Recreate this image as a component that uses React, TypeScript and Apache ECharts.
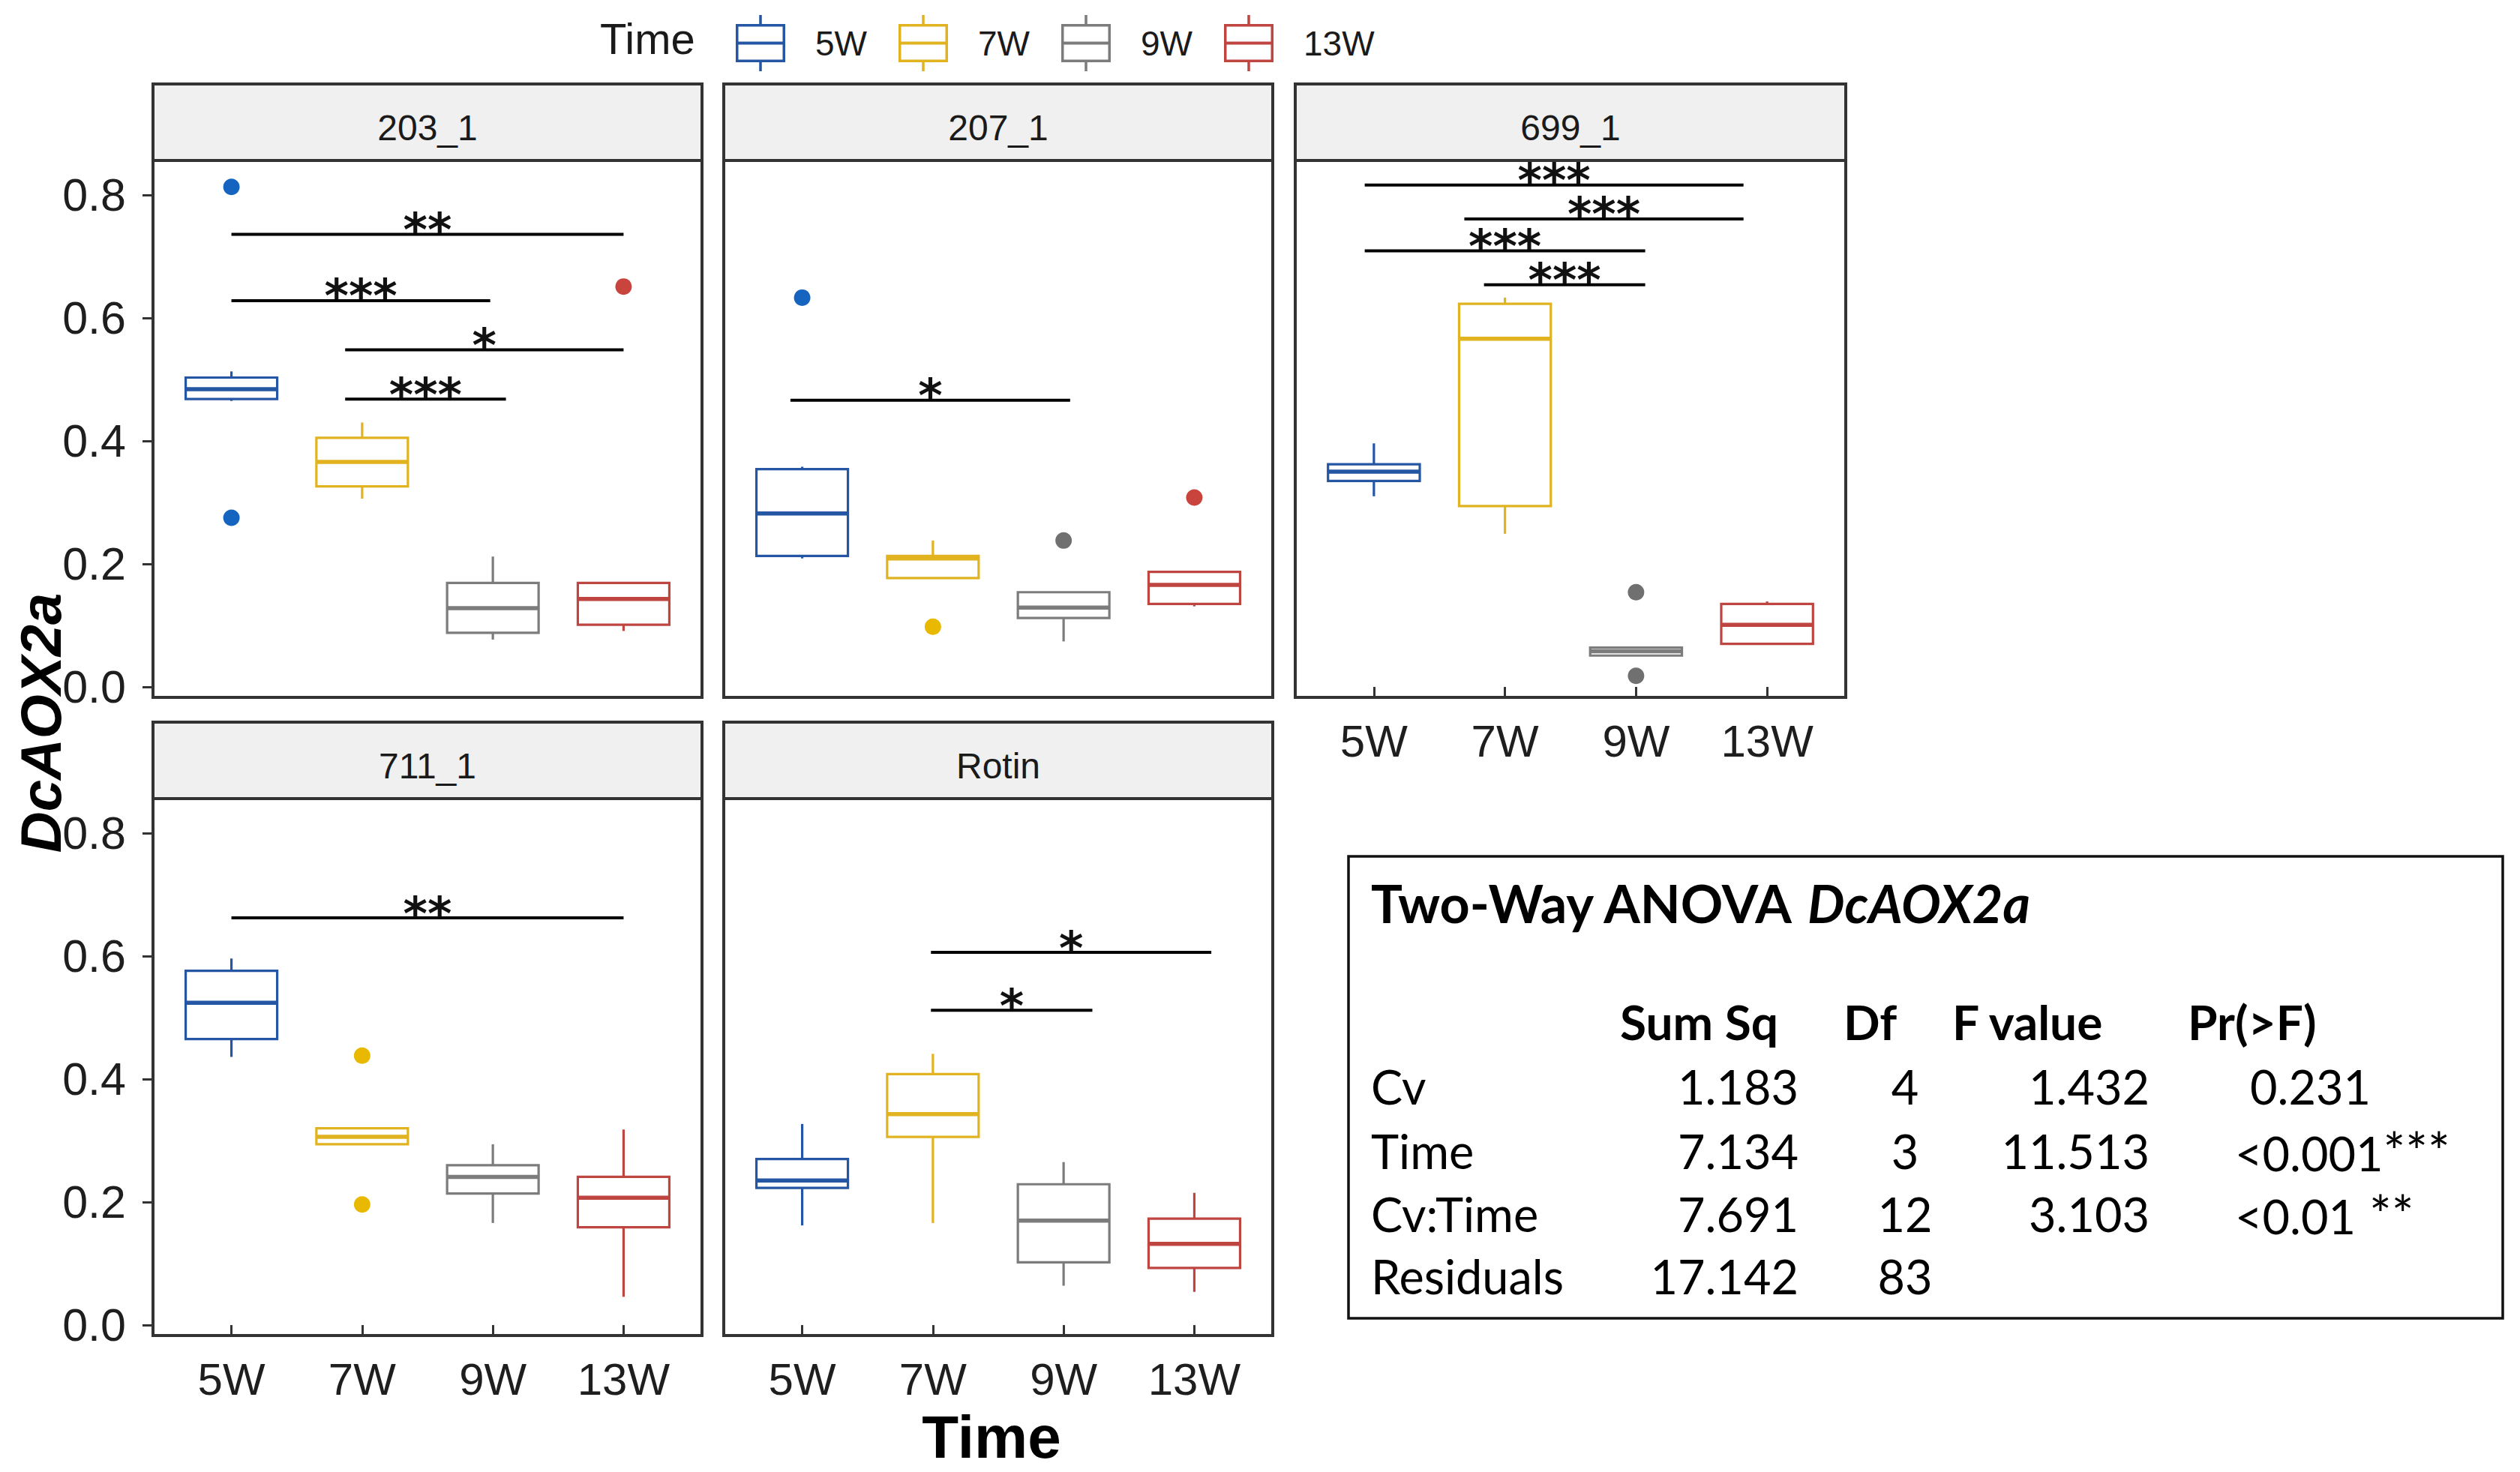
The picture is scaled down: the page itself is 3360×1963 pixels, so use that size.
import React, { useEffect, useRef } from 'react';
import * as echarts from 'echarts';

// ---------------- data ----------------
const panels = ['203_1', '207_1', '699_1', '711_1', 'Rotin'];
const times = ['5W', '7W', '9W', '13W'];
const yTicks = [0, 0.2, 0.4, 0.6, 0.8];
const xTicks = [1, 2, 3, 4];

// [min, Q1, median, Q3, max] for 5W, 7W, 9W, 13W
const box_203_1 = [
  [0.465, 0.468, 0.484, 0.503, 0.513],
  [0.306, 0.326, 0.366, 0.405, 0.43],
  [0.077, 0.088, 0.128, 0.169, 0.212],
  [0.091, 0.101, 0.143, 0.169, 0.169],
];
const box_207_1 = [
  [0.209, 0.213, 0.282, 0.354, 0.358],
  [0.177, 0.177, 0.209, 0.213, 0.238],
  [0.074, 0.112, 0.129, 0.154, 0.154],
  [0.131, 0.135, 0.166, 0.187, 0.187],
];
const box_699_1 = [
  [0.31, 0.335, 0.35, 0.362, 0.396],
  [0.249, 0.294, 0.566, 0.623, 0.633],
  [0.051, 0.051, 0.058, 0.064, 0.064],
  [0.07, 0.07, 0.101, 0.135, 0.139],
];
const box_711_1 = [
  [0.436, 0.465, 0.524, 0.576, 0.596],
  [0.294, 0.294, 0.306, 0.32, 0.32],
  [0.166, 0.214, 0.241, 0.26, 0.294],
  [0.046, 0.159, 0.207, 0.241, 0.318],
];
const box_Rotin = [
  [0.162, 0.223, 0.235, 0.27, 0.327],
  [0.166, 0.306, 0.343, 0.408, 0.441],
  [0.064, 0.102, 0.17, 0.229, 0.265],
  [0.054, 0.093, 0.132, 0.173, 0.215],
];

// outliers: [time position (1..4), value]
const out_203_1 = [[1, 0.813], [1, 0.275], [4, 0.651]];
const out_207_1 = [[1, 0.633], [2, 0.098], [3, 0.238], [4, 0.308]];
const out_699_1 = [[3, 0.154], [3, 0.018]];
const out_711_1 = [[2, 0.438], [2, 0.196]];
const out_Rotin: number[][] = [];

// significance bars: [from, to, height]
const sig_203_1 = [[1, 4, 0.736], [1, 2.98, 0.628], [1.87, 4, 0.548], [1.87, 3.1, 0.468]];
const sigLab_203_1 = ['**', '***', '*', '***'];
const sig_207_1 = [[0.91, 3.05, 0.466]];
const sigLab_207_1 = ['*'];
const sig_699_1 = [[0.93, 3.82, 0.816], [1.69, 3.82, 0.761], [0.93, 3.07, 0.709], [1.84, 3.07, 0.654]];
const sigLab_699_1 = ['***', '***', '***', '***'];
const sig_711_1 = [[1, 4, 0.662]];
const sigLab_711_1 = ['**'];
const sig_Rotin = [[1.985, 4.13, 0.606], [1.985, 3.22, 0.512]];
const sigLab_Rotin = ['*', '*'];

// ANOVA table
const anovaTitle = 'Two-Way ANOVA ';
const anovaGene = 'DcAOX2a';
const anovaHeader = ['Sum Sq', 'Df', 'F value', 'Pr(>F)'];
const anovaTerms = ['Cv', 'Time', 'Cv:Time', 'Residuals'];
const anovaSumSq = ['1.183', '7.134', '7.691', '17.142'];
const anovaDf = ['4', '3', '12', '83'];
const anovaF = ['1.432', '11.513', '3.103', ''];
const anovaP = ['0.231', '<0.001***', '<0.01 **', ''];

const boxes = [box_203_1, box_207_1, box_699_1, box_711_1, box_Rotin];
const outs = [out_203_1, out_207_1, out_699_1, out_711_1, out_Rotin];
const sigs = [sig_203_1, sig_207_1, sig_699_1, sig_711_1, sig_Rotin];
const sigLabs = [sigLab_203_1, sigLab_207_1, sigLab_699_1, sigLab_711_1, sigLab_Rotin];

// ---------------- styles / layout ----------------
const BOX_COLORS = ['#2456A3', '#E2B320', '#7C7C7C', '#BF4540'];
const OUT_COLORS = ['#1565C0', '#E9B800', '#707070', '#C9443C'];
const FONT = "'Liberation Sans', Arial, sans-serif";
const TFONT = "Lato, 'Noto Sans', sans-serif";
const COL_X = [204, 965, 1727];
const COL_W = [732, 732, 734];
const ROW_Y = [214, 1065];
const PANEL_H = 716;
const STRIP_H = 102;
const PANEL_POS = [[0, 0], [1, 0], [2, 0], [0, 1], [1, 1]];
const Y_MIN = -0.017;
const Y_MAX = 0.856;
const BOX_W = 0.7;

const LEGEND_ICON =
  'path://M0 12L66 12L66 63L0 63Z M3.5 15.5L3.5 59.5L62.5 59.5L62.5 15.5Z M3.5 35.5L62.5 35.5L62.5 39.5L3.5 39.5Z M31.25 0L34.75 0L34.75 12L31.25 12Z M31.25 63L34.75 63L34.75 75L31.25 75Z';

function buildOption() {
  const grid: any[] = [];
  const xAxis: any[] = [];
  const yAxis: any[] = [];
  const series: any[] = [];
  const graphic: any[] = [];

  panels.forEach((name, p) => {
    const [c, r] = PANEL_POS[p];
    const left = COL_X[c];
    const top = ROW_Y[r];
    const w = COL_W[c];
    grid.push({
      left, top, width: w, height: PANEL_H,
      show: true, borderColor: '#333', borderWidth: 4, backgroundColor: 'transparent',
      containLabel: false,
    });
    const showX = p >= 2;
    const showY = c === 0;
    xAxis.push({
      type: 'value', gridIndex: p, min: 0.4, max: 4.6,
      show: showX,
      splitLine: { show: false },
      axisLine: { show: false },
      axisTick: { show: true, length: 14, lineStyle: { color: '#333', width: 3 }, customValues: xTicks },
      axisLabel: {
        show: true, customValues: xTicks, margin: 28,
        fontSize: 60, fontFamily: FONT, color: '#1E1E1E',
        formatter: (v: number) => times[Math.round(v) - 1] ?? '',
      },
    });
    yAxis.push({
      type: 'value', gridIndex: p, min: Y_MIN, max: Y_MAX,
      show: showY,
      splitLine: { show: false },
      axisLine: { show: false },
      axisTick: { show: true, length: 14, lineStyle: { color: '#333', width: 3 }, customValues: yTicks },
      axisLabel: {
        show: true, customValues: yTicks, margin: 36,
        fontSize: 61, fontFamily: FONT, color: '#1E1E1E',
        formatter: (v: number) => v.toFixed(1),
      },
    });

    // strip
    graphic.push({
      type: 'rect', z: 10,
      shape: { x: left, y: top - STRIP_H, width: w, height: STRIP_H },
      style: { fill: '#F0F0F0', stroke: '#333', lineWidth: 4 },
    });
    graphic.push({
      type: 'text', z: 11, x: left + w / 2, y: top - STRIP_H + 58,
      style: {
        text: name, x: 0, y: 0, align: 'center', verticalAlign: 'middle',
        textAlign: 'center', textVerticalAlign: 'middle',
        fontSize: 48, fontFamily: FONT, fill: '#1A1A1A',
      },
    });

    // boxes
    boxes[p].forEach((b, t) => {
      const col = BOX_COLORS[t];
      series.push({
        type: 'custom', name: times[t], xAxisIndex: p, yAxisIndex: p,
        itemStyle: { color: col },
        encode: { x: 0, y: [1, 2, 3, 4, 5] },
        data: [[t + 1, ...b]],
        renderItem: (params: any, api: any) => {
          const x = api.value(0);
          const pMin = api.coord([x, api.value(1)]);
          const pQ1 = api.coord([x, api.value(2)]);
          const pMed = api.coord([x, api.value(3)]);
          const pQ3 = api.coord([x, api.value(4)]);
          const pMax = api.coord([x, api.value(5)]);
          const xl = api.coord([x - BOX_W / 2, 0])[0];
          const xr = api.coord([x + BOX_W / 2, 0])[0];
          return {
            type: 'group',
            children: [
              { type: 'line', shape: { x1: pMax[0], y1: pMax[1], x2: pQ3[0], y2: pQ3[1] }, style: { stroke: col, lineWidth: 3.2 } },
              { type: 'line', shape: { x1: pMin[0], y1: pMin[1], x2: pQ1[0], y2: pQ1[1] }, style: { stroke: col, lineWidth: 3.2 } },
              { type: 'rect', shape: { x: xl, y: pQ3[1], width: xr - xl, height: Math.max(pQ1[1] - pQ3[1], 0.5) }, style: { fill: '#fff', stroke: col, lineWidth: 3.2 } },
              { type: 'line', shape: { x1: xl, y1: pMed[1], x2: xr, y2: pMed[1] }, style: { stroke: col, lineWidth: 5.5 } },
            ],
          };
        },
      });
    });

    // outliers
    if (outs[p].length) {
      series.push({
        type: 'scatter', name: 'outliers', xAxisIndex: p, yAxisIndex: p,
        symbolSize: 22, data: outs[p],
        itemStyle: { color: (prm: any) => OUT_COLORS[Math.round(prm.value[0]) - 1], opacity: 1 },
        z: 3,
      });
    }

    // significance
    const labs = sigLabs[p];
    series.push({
      type: 'custom', name: 'significance', xAxisIndex: p, yAxisIndex: p,
      encode: { x: [0, 1], y: 2 },
      data: sigs[p],
      z: 4,
      renderItem: (params: any, api: any) => {
        const yv = api.value(2);
        const p1 = api.coord([api.value(0), yv]);
        const p2 = api.coord([api.value(1), yv]);
        return {
          type: 'group',
          children: [
            { type: 'line', shape: { x1: p1[0], y1: p1[1], x2: p2[0], y2: p2[1] }, style: { stroke: '#000', lineWidth: 4 } },
            {
              type: 'text',
              style: {
                text: labs[params.dataIndex], x: (p1[0] + p2[0]) / 2, y: p1[1] - 6,
                align: 'center', verticalAlign: 'middle', textAlign: 'center', textVerticalAlign: 'middle',
                fontSize: 62, fontWeight: 'bold', fontFamily: "'DejaVu Sans', sans-serif", fill: '#111',
                lineHeight: 40,
              },
            },
          ],
        };
      },
    });
  });

  // axis titles
  graphic.push({
    type: 'text', x: 54, y: 964, rotation: Math.PI / 2,
    style: {
      text: 'DcAOX2a', x: 0, y: 0, align: 'center', verticalAlign: 'middle',
      textAlign: 'center', textVerticalAlign: 'middle',
      fontSize: 76, fontWeight: 'bold', fontStyle: 'italic', fontFamily: FONT, fill: '#000',
    },
  });
  graphic.push({
    type: 'text', x: 1322, y: 1916,
    style: {
      text: 'Time', x: 0, y: 0, align: 'center', verticalAlign: 'middle',
      textAlign: 'center', textVerticalAlign: 'middle',
      fontSize: 80, fontWeight: 'bold', fontFamily: FONT, fill: '#000',
    },
  });
  // legend title
  graphic.push({
    type: 'text', x: 800, y: 51,
    style: {
      text: 'Time', x: 0, y: 0, align: 'left', verticalAlign: 'middle',
      textAlign: 'left', textVerticalAlign: 'middle',
      fontSize: 58, fontFamily: FONT, fill: '#1A1A1A',
    },
  });

  // ANOVA table
  graphic.push({
    type: 'rect',
    shape: { x: 1798, y: 1142, width: 1539, height: 616 },
    style: { fill: '#fff', stroke: '#111', lineWidth: 3.5 },
  });
  graphic.push({
    type: 'text', x: 1828, y: 1204,
    style: {
      text: '{a|' + anovaTitle + '}{b|' + anovaGene + '}',
      x: 0, y: 0, align: 'left', verticalAlign: 'middle', textAlign: 'left', textVerticalAlign: 'middle',
      rich: {
        a: { fontSize: 70, fontWeight: 'bold', fontFamily: TFONT, fill: '#000', color: '#000' },
        b: { fontSize: 70, fontWeight: 'bold', fontStyle: 'italic', fontFamily: TFONT, fill: '#000', color: '#000' },
      },
    },
  });
  const headerX = [2160, 2458, 2603, 2917];
  anovaHeader.forEach((h, i) => {
    graphic.push({
      type: 'text', x: headerX[i], y: 1362,
      style: {
        text: h, x: 0, y: 0, align: 'left', verticalAlign: 'middle', textAlign: 'left', textVerticalAlign: 'middle',
        fontSize: 64, fontWeight: 'bold', fontFamily: TFONT, fill: '#000',
      },
    });
  });
  const rowY = [1448, 1534, 1618, 1701];
  const cell = (text: string, x: number, y: number, align: string) => ({
    type: 'text', x, y,
    style: {
      text, x: 0, y: 0, align, verticalAlign: 'middle', textAlign: align, textVerticalAlign: 'middle',
      fontSize: 63, fontFamily: TFONT, fill: '#000',
    },
  });
  const pCell = (text: string, x: number, y: number) => {
    const m = text.match(/^([^*]*?)(\s*\*+)$/);
    return {
      type: 'text', x, y,
      style: {
        text: m ? '{n|' + m[1] + '}{s|' + m[2] + '}' : '{n|' + text + '}',
        x: 0, y: 0, align: 'left', verticalAlign: 'middle', textAlign: 'left', textVerticalAlign: 'middle',
        rich: {
          n: { fontSize: 63, fontFamily: TFONT, fill: '#000', color: '#000', verticalAlign: 'bottom' },
          s: { fontSize: 70, fontFamily: TFONT, fill: '#000', color: '#000', verticalAlign: 'bottom' },
        },
      },
    };
  };
  anovaTerms.forEach((t, i) => {
    graphic.push(cell(t, 1828, rowY[i], 'left'));
    graphic.push(cell(anovaSumSq[i], 2398, rowY[i], 'right'));
    graphic.push(cell(anovaDf[i], 2540, rowY[i], 'center'));
    if (anovaF[i]) graphic.push(cell(anovaF[i], 2866, rowY[i], 'right'));
    if (anovaP[i]) graphic.push(pCell(anovaP[i], i === 0 ? 3000 : 2980, rowY[i]));
  });

  return {
    animation: false,
    backgroundColor: '#fff',
    grid, xAxis, yAxis, series, graphic,
    legend: {
      data: times.map((n) => ({ name: n, icon: LEGEND_ICON })),
      left: 976, top: 15,
      itemWidth: 66, itemHeight: 75, itemGap: 42,
      selectedMode: false,
      textStyle: { fontSize: 46, fontFamily: FONT, color: '#1A1A1A', padding: [0, 0, 0, 35] },
    },
  };
}

export default function App() {
  const ref = useRef<HTMLDivElement>(null);
  useEffect(() => {
    if (!ref.current) return;
    const chart = echarts.init(ref.current, undefined, { renderer: 'svg' });
    chart.setOption(buildOption() as any);
    return () => chart.dispose();
  }, []);
  return (
    <div
      ref={ref}
      style={{ position: 'absolute', left: 0, top: 0, width: 3360, height: 1963, background: '#fff' }}
    />
  );
}
